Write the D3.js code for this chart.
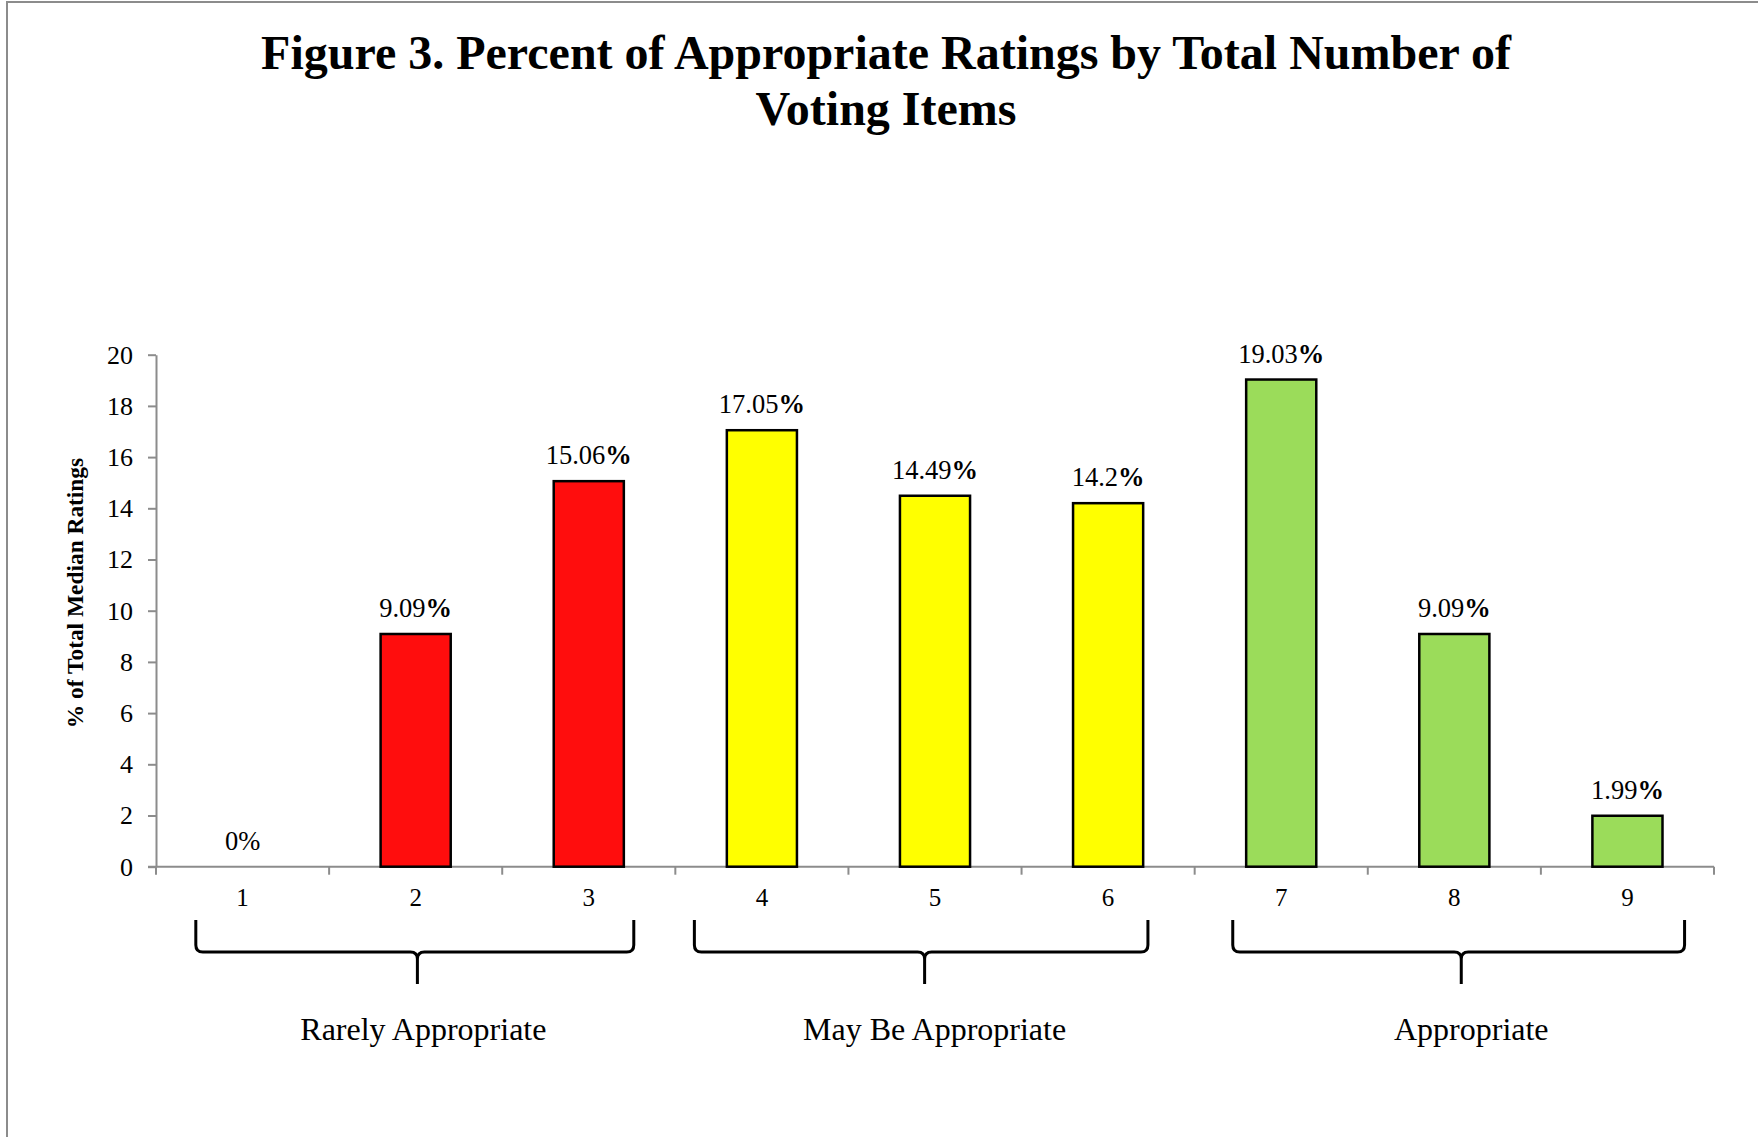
<!DOCTYPE html>
<html>
<head>
<meta charset="utf-8">
<script src="https://cdn.jsdelivr.net/npm/d3@7"></script>
<style>
  html, body { margin: 0; padding: 0; background: #fff; }
  svg { display: block; }
  text { font-family: "Liberation Serif", "Times New Roman", serif; fill: #000; }
</style>
</head>
<body>
<svg id="chart" width="1758" height="1137"></svg>
<script>
// ---- data ----
const categories = ["1", "2", "3", "4", "5", "6", "7", "8", "9"];
const values = [0, 9.09, 15.06, 17.05, 14.49, 14.2, 19.03, 9.09, 1.99];
const valueLabels = ["0", "9.09", "15.06", "17.05", "14.49", "14.2", "19.03", "9.09", "1.99"];
const percentBold = [false, true, true, true, true, true, true, true, true];
const groupNames = ["Rarely Appropriate", "May Be Appropriate", "Appropriate"];
const groupMembers = [["1", "2", "3"], ["4", "5", "6"], ["7", "8", "9"]];
const groupColors = ["#FF0D0D", "#FFFF00", "#9BDC5A"];
const yTicks = [0, 2, 4, 6, 8, 10, 12, 14, 16, 18, 20];
const titleLines = ["Figure 3. Percent of Appropriate Ratings by Total Number of", "Voting Items"];
const yTitle = "% of Total Median Ratings";

// ---- layout ----
const svg = d3.select("#chart");
const plot = { left: 156, right: 1714, top: 354.7, bottom: 866.7 };
// brace extents in category units (0..9 across the axis)
const braceFrom = [0.23, 3.11, 6.22];
const braceTo = [2.76, 5.73, 8.83];
const braceTip = [1.51, 4.44, 7.54];
const labelShift = [6, 10, 10];

const x = d3.scaleBand().domain(categories).range([plot.left, plot.right]).padding(0);
const xu = d3.scaleLinear().domain([0, categories.length]).range([plot.left, plot.right]);
const y = d3.scaleLinear().domain([0, 20]).range([plot.bottom, plot.top]);
const barW = x.bandwidth() * 0.405;
const colorOf = c => groupColors[groupMembers.findIndex(g => g.includes(c))];

// frame (left and top edges visible)
svg.append("rect").attr("x", 7).attr("y", 2).attr("width", 1800).attr("height", 1200)
  .attr("fill", "none").attr("stroke", "#8c8c8c").attr("stroke-width", 2);

// title
svg.append("g").selectAll("text").data(titleLines).join("text")
  .attr("x", 886).attr("y", (d, i) => 69 + i * 56)
  .attr("text-anchor", "middle").attr("font-weight", "bold").attr("font-size", 48)
  .text(d => d);

// y axis
const yAxis = svg.append("g").attr("transform", `translate(${plot.left},0)`)
  .call(d3.axisLeft(y).tickValues(yTicks).tickSize(8).tickSizeOuter(0).tickPadding(15));
yAxis.attr("font-size", 26).attr("font-family", null);
yAxis.select(".domain").attr("stroke", "#8c8c8c").attr("stroke-width", 2);
yAxis.selectAll(".tick line").attr("stroke", "#8c8c8c").attr("stroke-width", 2);
yAxis.selectAll(".tick text").style("font-size", "26px").attr("fill", "#000");

// x axis: line + boundary ticks
const xg = svg.append("g");
xg.append("line").attr("x1", plot.left - 8).attr("x2", plot.right).attr("y1", plot.bottom).attr("y2", plot.bottom)
  .attr("stroke", "#8c8c8c").attr("stroke-width", 2);
const boundaries = d3.range(categories.length + 1);
xg.selectAll("line.tk").data(boundaries).join("line").attr("class", "tk")
  .attr("x1", d => xu(d)).attr("x2", d => xu(d))
  .attr("y1", plot.bottom).attr("y2", plot.bottom + 8)
  .attr("stroke", "#8c8c8c").attr("stroke-width", 2);
xg.selectAll("text").data(categories).join("text")
  .attr("x", d => x(d) + x.bandwidth() / 2).attr("y", 906)
  .attr("text-anchor", "middle").style("font-size", "25px").text(d => d);

// bars
svg.append("g").selectAll("rect").data(categories).join("rect")
  .filter((d, i) => values[i] > 0)
  .attr("x", d => x(d) + x.bandwidth() / 2 - barW / 2)
  .attr("width", barW)
  .attr("y", d => y(values[categories.indexOf(d)]))
  .attr("height", d => y(0) - y(values[categories.indexOf(d)]))
  .attr("fill", d => colorOf(d))
  .attr("stroke", "#000").attr("stroke-width", 2.5);

// value labels
const vl = svg.append("g").selectAll("text").data(categories).join("text")
  .attr("x", d => x(d) + x.bandwidth() / 2)
  .attr("y", (d, i) => y(values[i]) - 17)
  .attr("text-anchor", "middle").style("font-size", "26.5px");
vl.append("tspan").text((d, i) => valueLabels[i]);
vl.append("tspan").attr("font-weight", (d, i) => percentBold[i] ? "bold" : "normal").text("%");

// y axis title
svg.append("text")
  .attr("transform", "translate(83,593) rotate(-90)")
  .attr("text-anchor", "middle").attr("font-weight", "bold").style("font-size", "23.4px")
  .text(yTitle);

// braces
const yTop = 920, yMid = 952, yTipY = 984, r = 7;
function bracePath(i) {
  const x0 = xu(braceFrom[i]), x1 = xu(braceTo[i]), xt = xu(braceTip[i]);
  return `M${x0},${yTop} L${x0},${yMid - r} Q${x0},${yMid} ${x0 + r},${yMid} L${xt - r},${yMid} Q${xt},${yMid} ${xt},${yMid + r} L${xt},${yTipY}` +
         ` M${x1},${yTop} L${x1},${yMid - r} Q${x1},${yMid} ${x1 - r},${yMid} L${xt + r},${yMid} Q${xt},${yMid} ${xt},${yMid + r}`;
}
svg.append("g").selectAll("path").data(groupNames).join("path")
  .attr("d", (d, i) => bracePath(i))
  .attr("fill", "none").attr("stroke", "#000").attr("stroke-width", 3);

svg.append("g").selectAll("text").data(groupNames).join("text")
  .attr("x", (d, i) => xu(braceTip[i]) + labelShift[i]).attr("y", 1040)
  .attr("text-anchor", "middle").style("font-size", "32px").text(d => d);
</script>
</body>
</html>
